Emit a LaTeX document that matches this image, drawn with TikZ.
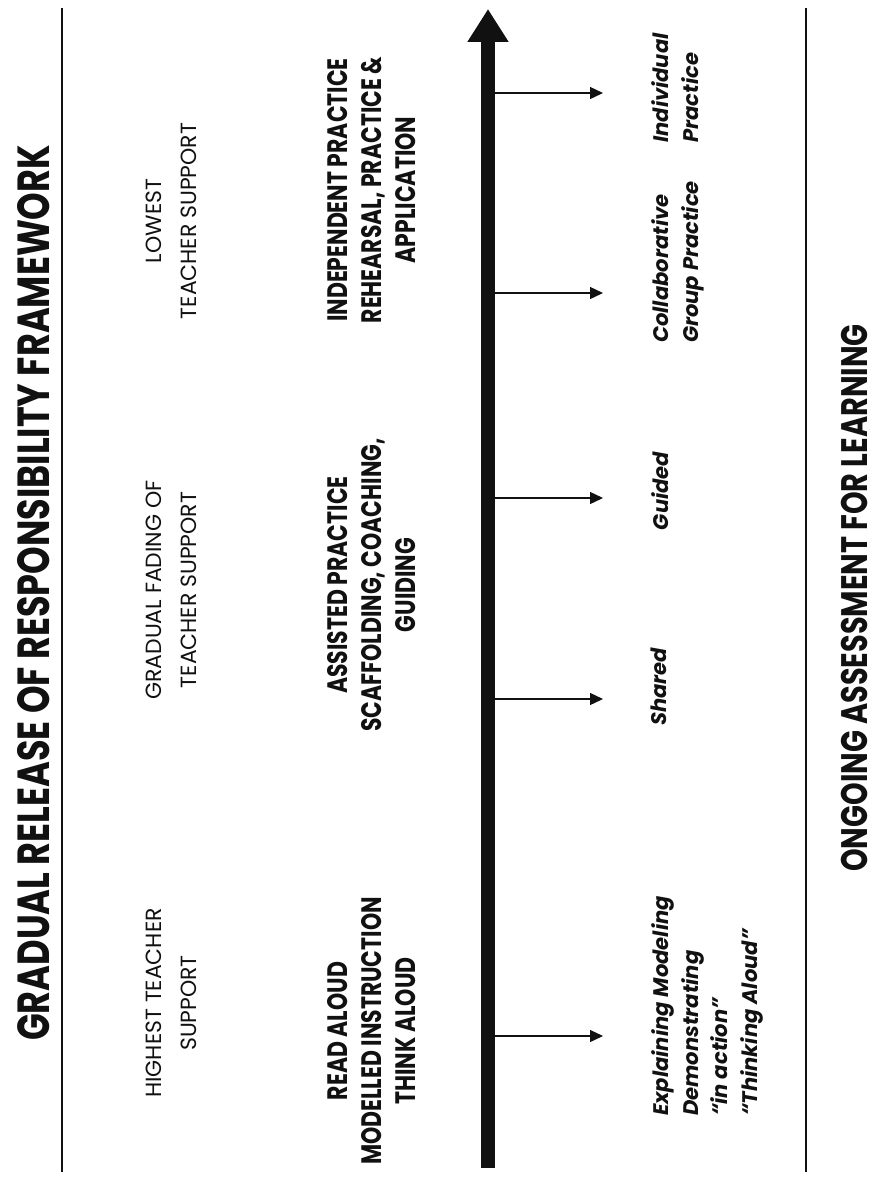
\documentclass[tikz,border=0pt]{standalone}
\usepackage{fontspec}
\setmainfont{Poppins}
\newfontfamily\heavyfont{Poppins}[FakeStretch=0.78]
\usetikzlibrary{arrows.meta}
\definecolor{inkBlack}{HTML}{111111}
\tikzset{
  titleLabel/.style={
    rotate=90,
    anchor=south,
    font=\heavyfont\fontsize{25.6}{30}\selectfont\bfseries,
    text=inkBlack,
    inner sep=0pt
  },
  supportLabel/.style={
    rotate=90,
    anchor=north,
    align=center,
    font=\fontsize{12.5}{20}\selectfont,
    text=inkBlack,
    inner sep=0pt
  },
  practiceLabel/.style={
    rotate=90,
    anchor=north,
    align=center,
    font=\heavyfont\fontsize{16}{19.5}\selectfont\bfseries,
    text=inkBlack,
    inner sep=0pt
  },
  stageLabel/.style={
    rotate=90,
    anchor=north,
    align=left,
    font=\fontsize{12}{17}\selectfont\bfseries\itshape,
    text=inkBlack,
    inner sep=0pt
  },
  sideRule/.style={line width=1.1pt, inkBlack},
  mainArrow/.style={
    line width=0.27cm, inkBlack,
    -{Triangle[length=0.66cm, width=0.78cm]}
  },
  stageArrow/.style={
    line width=0.75pt, inkBlack,
    -{Triangle[length=0.26cm, width=0.24cm]}
  }
}
\begin{document}
\begin{tikzpicture}[x=0.02cm,y=-0.02cm]
  \useasboundingbox[fill=white] (0,0) rectangle (878,1177);

  % heading and framing rules
  \node[titleLabel] (title) at (50,593)
    {GRADUAL RELEASE OF RESPONSIBILITY FRAMEWORK};
  \coordinate (ruleLtop) at (62,8);
  \coordinate (ruleLbot) at (62,1172);
  \coordinate (ruleRtop) at (806,8);
  \coordinate (ruleRbot) at (806,1172);
  \draw[sideRule] (ruleLtop) -- (ruleLbot);
  \draw[sideRule] (ruleRtop) -- (ruleRbot);

  % teacher support levels
  \node[supportLabel] (highest) at (146,1003) {HIGHEST TEACHER\\SUPPORT};
  \node[supportLabel] (fading) at (146,590) {GRADUAL FADING OF\\TEACHER SUPPORT};
  \node[supportLabel] (lowest) at (146,221) {LOWEST\\TEACHER SUPPORT};

  % practice types
  \node[practiceLabel] (modelled) at (327,1031)
    {READ ALOUD\\MODELLED INSTRUCTION\\THINK ALOUD};
  \node[practiceLabel] (assisted) at (327,585)
    {ASSISTED PRACTICE\\SCAFFOLDING, COACHING,\\GUIDING};
  \node[practiceLabel] (independent) at (327,190)
    {INDEPENDENT PRACTICE\\REHEARSAL, PRACTICE \&\\APPLICATION};

  % release axis
  \coordinate (axisTail) at (488,1168);
  \coordinate (axisTip) at (488,9);
  \draw[mainArrow] (axisTail) -- (axisTip);

  % stages branching off the axis
  \coordinate (modelFrom) at (495,1036);
  \coordinate (modelTo) at (603,1036);
  \coordinate (sharedFrom) at (495,699);
  \coordinate (sharedTo) at (603,699);
  \coordinate (guidedFrom) at (495,498);
  \coordinate (guidedTo) at (603,498);
  \coordinate (groupFrom) at (495,293);
  \coordinate (groupTo) at (603,293);
  \coordinate (soloFrom) at (495,93);
  \coordinate (soloTo) at (603,93);
  \draw[stageArrow] (modelFrom) -- (modelTo);
  \draw[stageArrow] (sharedFrom) -- (sharedTo);
  \draw[stageArrow] (guidedFrom) -- (guidedTo);
  \draw[stageArrow] (groupFrom) -- (groupTo);
  \draw[stageArrow] (soloFrom) -- (soloTo);

  \node[stageLabel] (modelStage) at (651,1006)
    {Explaining Modeling\\Demonstrating\\``in action''\\``Thinking Aloud''};
  \node[stageLabel] (sharedStage) at (651,687) {Shared};
  \node[stageLabel] (guidedStage) at (651,491) {Guided};
  \node[stageLabel] (groupStage) at (651,262) {Collaborative\\Group Practice};
  \node[stageLabel] (soloStage) at (651,88) {Individual\\Practice};

  % footer
  \node[titleLabel, font=\heavyfont\fontsize{21}{24}\selectfont\bfseries]
    (ongoing) at (868,598) {ONGOING ASSESSMENT FOR LEARNING};
\end{tikzpicture}
\end{document}
